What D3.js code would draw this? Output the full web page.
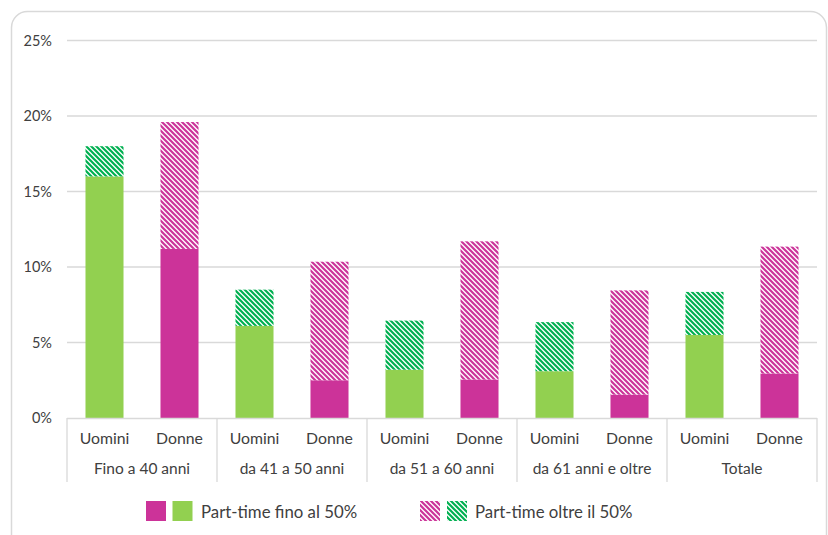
<!DOCTYPE html>
<html><head><meta charset="utf-8">
<script src="https://cdn.jsdelivr.net/npm/d3@7"></script>
<style>body{margin:0;background:#fff}svg{display:block}text{font-family:Lato,"Open Sans",sans-serif;fill:#404040}</style>
</head><body>
<svg id="c" width="828" height="535"></svg>
<script>
const groups = ["Fino a 40 anni","da 41 a 50 anni","da 51 a 60 anni","da 61 anni e oltre","Totale"];
const genders = ["Uomini","Donne"];
const uominiFino50 = [16.0, 6.1, 3.2, 3.1, 5.5];
const uominiOltre50 = [2.0, 2.4, 3.25, 3.25, 2.85];
const donneFino50 = [11.2, 2.5, 2.55, 1.55, 2.95];
const donneOltre50 = [8.4, 7.85, 9.15, 6.9, 8.4];
const yTicks = [0,5,10,15,20,25];
const legendLabels = ["Part-time fino al 50%","Part-time oltre il 50%"];

const magenta = "#CC3399", green = "#92D050", hatchGreen = "#00B050";
const svg = d3.select("#c");

const defs = svg.append("defs");
function pattern(id, color){
  const s = 5;
  const p = defs.append("pattern").attr("id", id).attr("patternUnits","userSpaceOnUse")
    .attr("width",s).attr("height",s);
  p.append("rect").attr("width",s).attr("height",s).attr("fill","#fff");
  p.append("path").attr("d",`M-1,-1 L${s+1},${s+1} M${-s-1},-1 L1,${s+1} M${s-1},-1 L${2*s+1},${s+1}`)
    .attr("stroke",color).attr("stroke-width",2.2);
}
pattern("hm", magenta); pattern("hg", hatchGreen);

svg.append("rect").attr("x",11.5).attr("y",11.5).attr("width",815).attr("height",560).attr("rx",16)
  .attr("fill","none").attr("stroke","#d9d9d9").attr("stroke-width",1.5);

const x0 = d3.scaleBand().domain(groups).range([67,817]).padding(0);
const x1 = d3.scaleBand().domain(genders).range([0,x0.bandwidth()]).paddingInner(0.493).paddingOuter(0.2465);
const y = d3.scaleLinear().domain([0,25]).range([418,40.5]);

svg.append("g").selectAll("line").data(yTicks.filter(d=>d>0)).join("line")
  .attr("x1",67).attr("x2",817).attr("y1",d=>y(d)).attr("y2",d=>y(d))
  .attr("stroke","#d9d9d9").attr("stroke-width",1.3);

svg.append("g").selectAll("text").data(yTicks).join("text")
  .attr("x",52).attr("y",d=>y(d)).attr("dy","0.35em").attr("text-anchor","end")
  .attr("font-size",14.5).text(d=>d+"%");

const rows = [];
groups.forEach((g,i)=>{
  rows.push({g, s:"Uomini", a:uominiFino50[i], b:uominiOltre50[i], ca:green, cb:"url(#hg)"});
  rows.push({g, s:"Donne", a:donneFino50[i], b:donneOltre50[i], ca:magenta, cb:"url(#hm)"});
});
const bars = svg.append("g");
rows.forEach(r=>{
  const bx = x0(r.g)+x1(r.s), w = x1.bandwidth();
  bars.append("rect").attr("x",bx).attr("width",w).attr("y",y(r.a)).attr("height",y(0)-y(r.a)).attr("fill",r.ca);
  bars.append("rect").attr("x",bx).attr("width",w).attr("y",y(r.a+r.b)).attr("height",y(r.a)-y(r.a+r.b)).attr("fill",r.cb);
});

svg.append("line").attr("x1",67).attr("x2",817).attr("y1",y(0)+0.5).attr("y2",y(0)+0.5).attr("stroke","#d9d9d9").attr("stroke-width",1.3);
const seps = groups.map(g=>x0(g)).concat([x0.range()[1]]);
svg.append("g").selectAll("line").data(seps).join("line")
  .attr("x1",d=>d).attr("x2",d=>d).attr("y1",y(0)).attr("y2",482).attr("stroke","#d9d9d9").attr("stroke-width",1.3);
const lab = svg.append("g");
groups.forEach(g=>{
  genders.forEach(s=>{
    lab.append("text").attr("x",x0(g)+x1(s)+x1.bandwidth()/2).attr("y",444).attr("text-anchor","middle").attr("font-size",15.8).text(s);
  });
  lab.append("text").attr("x",x0(g)+x0.bandwidth()/2).attr("y",474).attr("text-anchor","middle").attr("font-size",15.5).text(g);
});

const lg = svg.append("g");
lg.append("rect").attr("x",146).attr("y",501).attr("width",20).attr("height",20).attr("fill",magenta);
lg.append("rect").attr("x",172.5).attr("y",501).attr("width",20).attr("height",20).attr("fill",green);
lg.append("text").attr("x",201).attr("y",518).attr("font-size",16.8).text(legendLabels[0]);
lg.append("rect").attr("x",420).attr("y",501).attr("width",20).attr("height",20).attr("fill","url(#hm)");
lg.append("rect").attr("x",447).attr("y",501).attr("width",20).attr("height",20).attr("fill","url(#hg)");
lg.append("text").attr("x",475).attr("y",518).attr("font-size",16.8).text(legendLabels[1]);
</script>
</body></html>
